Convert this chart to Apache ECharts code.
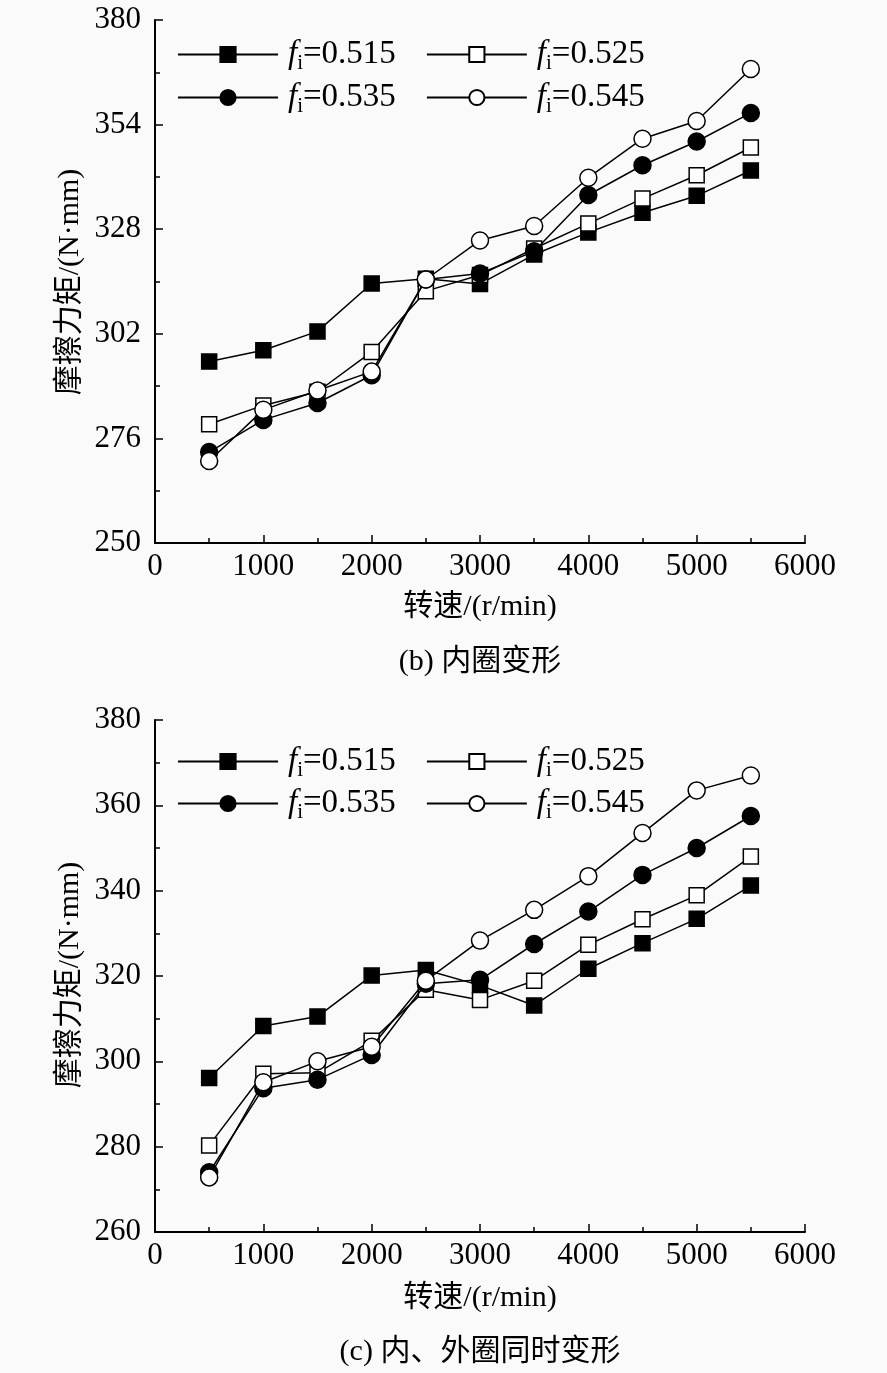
<!DOCTYPE html>
<html><head><meta charset="utf-8">
<script src="https://cdn.jsdelivr.net/npm/echarts@6/dist/echarts.min.js"></script>
<style>html,body{margin:0;padding:0;background:#fafafa}#c{width:887px;height:1373px}</style>
</head><body><div id="c"></div>
<script>
// Shared x categories (rotational speed, r/min)
const speeds = [500, 1000, 1500, 2000, 2500, 3000, 3500, 4000, 4500, 5000, 5500];
const fiNames = ['0.515', '0.525', '0.535', '0.545'];

// (b) inner ring deformation
const b_515 = [295.1, 297.9, 302.6, 314.5, 315.7, 314.4, 321.7, 327.2, 332.1, 336.3, 342.6];
const b_525 = [279.5, 284.2, 287.6, 297.5, 312.6, 316.6, 323.2, 329.4, 335.6, 341.4, 348.3];
const b_535 = [272.6, 280.6, 284.8, 291.7, 315.5, 317.0, 322.5, 336.5, 343.9, 349.8, 356.9];
const b_545 = [270.4, 283.1, 287.9, 292.6, 315.5, 325.2, 328.8, 340.8, 350.5, 354.9, 367.8];

// (c) inner & outer ring deformation simultaneously
const c_515 = [296.1, 308.3, 310.5, 320.1, 321.4, 317.8, 313.1, 321.7, 327.7, 333.4, 341.2];
const c_525 = [280.3, 297.1, 297.3, 304.8, 316.8, 314.4, 318.9, 327.3, 333.3, 338.9, 348.0];
const c_535 = [274.0, 293.7, 295.7, 301.5, 318.2, 319.1, 327.5, 335.1, 343.7, 350.0, 357.5];
const c_545 = [272.8, 295.1, 300.0, 303.4, 318.9, 328.3, 335.5, 343.4, 353.5, 363.5, 367.0];

const yTicksB = {min: 250, max: 380, interval: 26};
const yTicksC = {min: 260, max: 380, interval: 20};

const FONT = '"Liberation Serif", "Times New Roman", serif';
const CJK = '"Liberation Serif", "Noto Sans CJK SC", serif';

const markers = [
  {symbol: 'rect', size: 15, fill: '#000'},
  {symbol: 'rect', size: 15, fill: '#fff'},
  {symbol: 'circle', size: 17, fill: '#000'},
  {symbol: 'circle', size: 17, fill: '#fff'}
];

function mkSeries(arrs, idx) {
  return arrs.map((arr, k) => ({
    name: fiNames[k],
    type: 'line',
    xAxisIndex: idx, yAxisIndex: idx,
    data: speeds.map((s, i) => [s, arr[i]]),
    symbol: markers[k].symbol,
    symbolSize: markers[k].size,
    showAllSymbol: true,
    lineStyle: {color: '#000', width: 1.5},
    itemStyle: {color: markers[k].fill, borderColor: '#000', borderWidth: 1.5, opacity: 1},
    emphasis: {disabled: true},
    z: 2 + k,
    animation: false
  }));
}

function xAxis(idx) {
  return {
    type: 'value', gridIndex: idx, min: 0, max: 6000, interval: 1000,
    axisLine: {show: true, onZero: false, lineStyle: {color: '#000', width: 2}},
    axisTick: {show: true, inside: true, length: 8, lineStyle: {color: '#000', width: 1.5}},
    minorTick: {show: true, splitNumber: 2, length: 5, lineStyle: {color: '#000', width: 1.5}},
    axisLabel: {color: '#000', fontFamily: FONT, fontSize: 31, margin: 8, formatter: v => String(v)},
    splitLine: {show: false}
  };
}
function yAxis(idx, t) {
  return {
    type: 'value', gridIndex: idx, min: t.min, max: t.max, interval: t.interval,
    axisLine: {show: true, onZero: false, lineStyle: {color: '#000', width: 2}},
    axisTick: {show: true, inside: true, length: 8, lineStyle: {color: '#000', width: 1.5}},
    minorTick: {show: true, splitNumber: 2, length: 5, lineStyle: {color: '#000', width: 1.5}},
    axisLabel: {color: '#000', fontFamily: FONT, fontSize: 31, margin: 14, formatter: v => String(v)},
    splitLine: {show: false}
  };
}

function legend(names, left, top) {
  return {
    data: names, left: left, top: top, orient: 'horizontal', padding: 0,
    itemWidth: 100, itemHeight: 19, itemGap: 30, selectedMode: false,
    formatter: n => '{i|f}{s|i}{t|=' + n + '}',
    textStyle: {
      color: '#000', fontFamily: FONT, fontSize: 32,
      rich: {
        i: {fontFamily: FONT, fontStyle: 'italic', fontSize: 33, color: '#000', padding: [0, 0, 0, 5]},
        s: {fontFamily: FONT, fontSize: 21, color: '#000', padding: [18, 0, 0, 0]},
        t: {fontFamily: FONT, fontSize: 33, color: '#000'}
      }
    }
  };
}

function txt(x, y, s, size, rot) {
  return {
    type: 'text', x: x, y: y, rotation: rot || 0, silent: true,
    style: {text: s, fill: '#000', font: size + 'px ' + CJK, align: 'center', verticalAlign: 'middle'}
  };
}

const chart = echarts.init(document.getElementById('c'), null, {renderer: 'canvas'});
chart.setOption({
  backgroundColor: '#fafafa',
  animation: false,
  grid: [
    {left: 155, top: 20, width: 650, height: 523},
    {left: 155, top: 720, width: 650, height: 512}
  ],
  xAxis: [xAxis(0), xAxis(1)],
  yAxis: [yAxis(0, yTicksB), yAxis(1, yTicksC)],
  legend: [
    legend([fiNames[0], fiNames[1]], 177, 38),
    legend([fiNames[2], fiNames[3]], 177, 81),
    legend([fiNames[0], fiNames[1]], 177, 745),
    legend([fiNames[2], fiNames[3]], 177, 787)
  ],
  series: mkSeries([b_515, b_525, b_535, b_545], 0).concat(mkSeries([c_515, c_525, c_535, c_545], 1)),
  graphic: [
    txt(480, 607, '转速/(r/min)', 30),
    txt(480, 662, '(b) 内圈变形', 30),
    txt(70, 282, '摩擦力矩/(N·mm)', 30, Math.PI / 2),
    txt(480, 1298, '转速/(r/min)', 30),
    txt(480, 1352, '(c) 内、外圈同时变形', 30),
    txt(70, 975, '摩擦力矩/(N·mm)', 30, Math.PI / 2)
  ]
});
</script></body></html>
